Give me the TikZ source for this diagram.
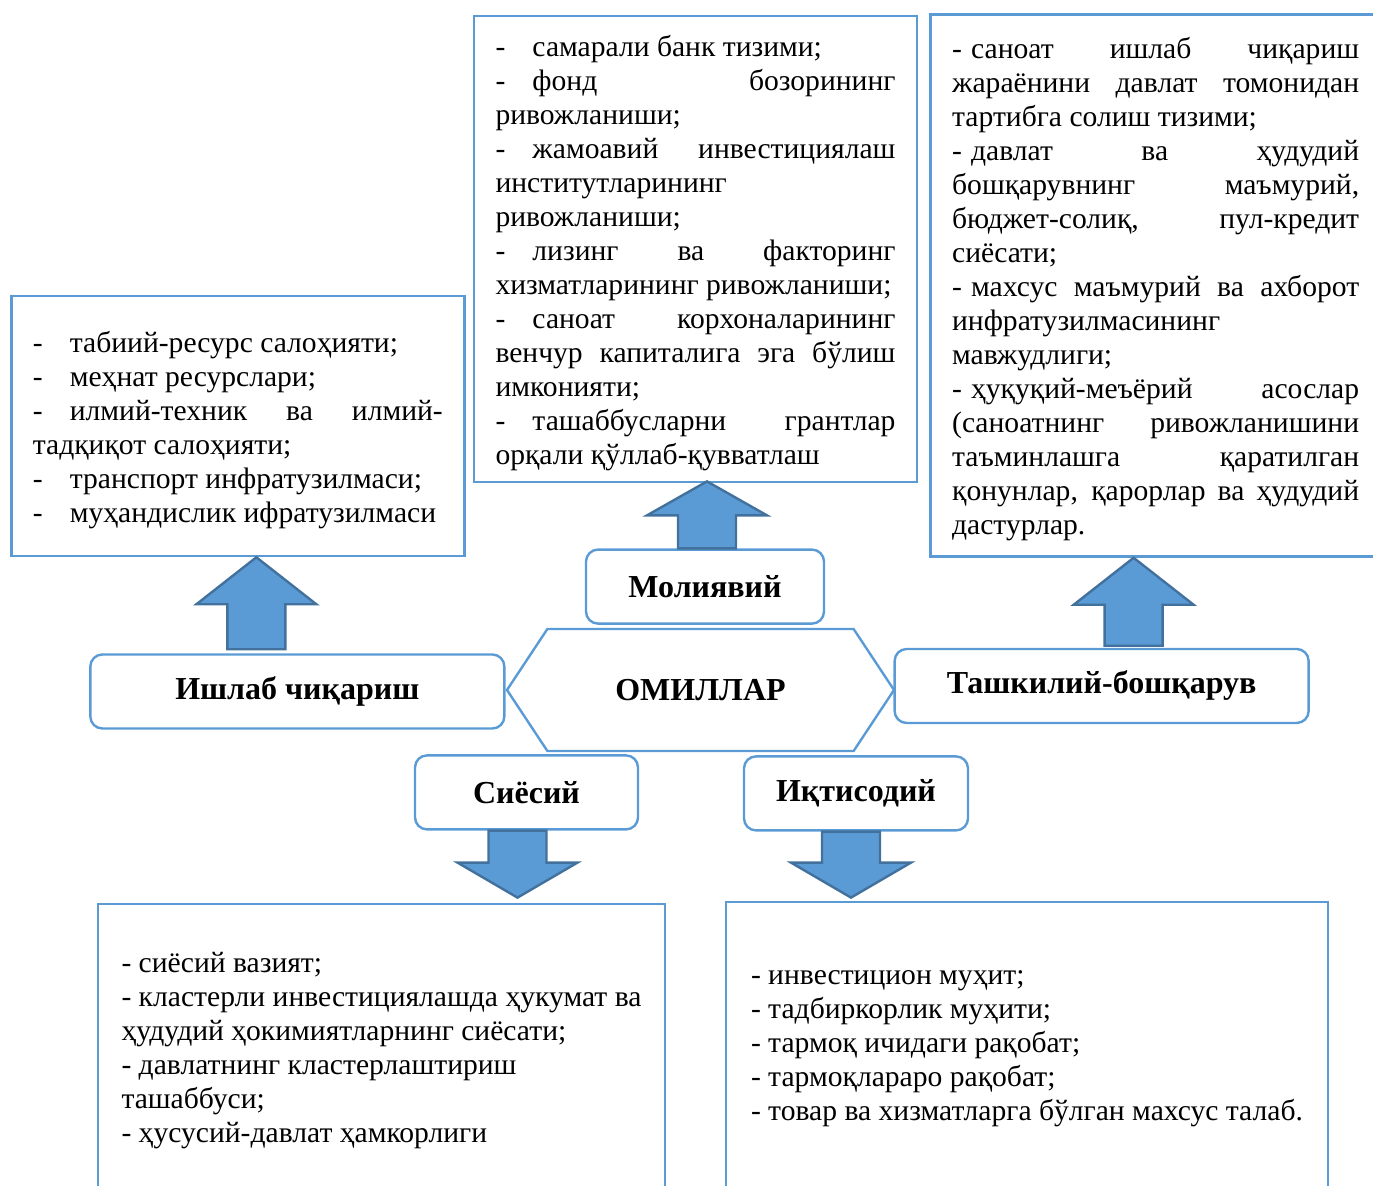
\documentclass[tikz,border=0pt]{standalone}
\usepackage{fontspec}
\setmainfont{Liberation Serif}
\usepackage{tikz}
\usetikzlibrary{calc,positioning,shapes.symbols}
\definecolor{boxblue}{RGB}{91,155,213}
\definecolor{arrowline}{RGB}{65,113,156}
\hbadness=10000
\newcommand{\bodyfont}{\fontsize{14.8}{17}\selectfont}
\newcommand{\labelfont}{\fontsize{16}{19}\selectfont\bfseries}
\newcommand{\dsh}{\makebox[18.5pt][l]{-}}
\newcommand{\dshs}{\makebox[9.5pt][l]{-}}
\newcommand{\liftend}{\par\vspace{-4pt}}
% block arrow: #1 shaft end, #2 tip, #3 offset of head base from the tip
\newcommand{\blockarr}[3]{%
  \draw[blockarrow] let \p1=#1, \p2=#2, \p3=($#2+(0pt,#3)$) in
    (\x1-14.5pt,\y1) -- (\x1-14.5pt,\y3) -- (\x1-30pt,\y3) -- (\x1,\y2)
    -- (\x1+30pt,\y3) -- (\x1+14.5pt,\y3) -- (\x1+14.5pt,\y1) -- cycle;}

\begin{document}
\begin{tikzpicture}[x=0.5pt, y=-0.5pt, font=\bodyfont]
    \tikzstyle{factor} = [rectangle, rounded corners=6pt, draw=boxblue, line width=1.2pt, fill=white, minimum height=37pt, text centered, font=\labelfont]
    \tikzstyle{txtbox} = [rectangle, draw=boxblue, line width=1.2pt, inner xsep=10.75pt, inner ysep=0pt]
    \tikzstyle{justbox} = [txtbox, align=justify, execute at end node=\liftend]
    \tikzstyle{blockarrow} = [draw=arrowline, line width=1.2pt, fill=boxblue, line join=miter]
    \useasboundingbox (0,0) rectangle (1373,1186);
    \clip (0,0) rectangle (1373,1186);

    % Centre
    \node [signal, signal to=west and east, signal pointer angle=113, draw=boxblue, line width=1.2pt,
           minimum width=193.5pt, minimum height=61pt, font=\labelfont] (omil) at (700.5,690) {ОМИЛЛАР};

    % Factor groups
    \node [factor, minimum width=207pt, left=0pt of omil, yshift=-0.75pt] (ishlab) {Ишлаб чиқариш};
    \node [factor, minimum width=207pt, right=-1pt of omil, yshift=2pt] (tashkil) {Ташкилий-бошқарув};
    \node [factor, minimum width=119pt, above=1.5pt of omil, xshift=2.25pt] (moliya) {Молиявий};
    \node [factor, minimum width=111.5pt, below=1pt of omil, xshift=-87pt] (siyosiy) {Сиёсий};
    \node [factor, minimum width=112pt, below=1.5pt of omil, xshift=77.75pt] (iqtisod) {Иқтисодий};

    % Lists
    \node [justbox, text width=205pt, minimum height=130pt, above=48pt of ishlab, xshift=-29.75pt] (ishlabtxt) {%
        \dsh табиий-ресурс салоҳияти;\par
        \dsh меҳнат ресурслари;\par
        \dsh илмий-техник ва илмий-\linebreak тадқиқот салоҳияти;\par
        \dsh транспорт инфратузилмаси;\par
        \dsh муҳандислик ифратузилмаси};
    \node [justbox, text width=200pt, minimum height=233pt, above=32.5pt of moliya, xshift=-4.75pt] (moliyatxt) {%
        \dsh самарали банк тизими;\par
        \dsh фонд бозорининг\linebreak ривожланиши;\par
        \dsh жамоавий инвестициялаш\linebreak институтларининг\linebreak ривожланиши;\par
        \dsh лизинг ва факторинг\linebreak хизматларининг ривожланиши;\par
        \dsh саноат корхоналарининг\linebreak венчур капиталига эга бўлиш\linebreak имконияти;\par
        \dsh ташаббусларни грантлар\linebreak орқали қўллаб-қувватлаш};
    % runs past the right edge of the page
    \node [justbox, text width=203.5pt, minimum height=271pt, above=45pt of tashkil, xshift=27pt] (tashkiltxt) {%
        \dshs саноат ишлаб чиқариш\linebreak жараёнини давлат томонидан\linebreak тартибга солиш тизими;\par
        \dshs давлат ва ҳудудий\linebreak бошқарувнинг маъмурий,\linebreak бюджет-солиқ, пул-кредит\linebreak сиёсати;\par
        \dshs махсус маъмурий ва ахборот\linebreak инфратузилмасининг\linebreak мавжудлиги;\par
        \dshs ҳуқуқий-меъёрий асослар\linebreak (саноатнинг ривожланишини\linebreak таъминлашга қаратилган\linebreak қонунлар, қарорлар ва ҳудудий\linebreak дастурлар.};
    \node [txtbox, minimum width=283.5pt, minimum height=147pt, align=left, below=36pt of siyosiy, xshift=-72.5pt] (siyosiytxt) {%
        - сиёсий вазият;\\
        - кластерли инвестициялашда ҳукумат ва\\
        ҳудудий ҳокимиятларнинг сиёсати;\\
        - давлатнинг кластерлаштириш\\
        ташаббуси;\\
        - ҳусусий-давлат ҳамкорлиги};
    \node [txtbox, minimum width=301pt, minimum height=146.5pt, align=left, below=34.5pt of iqtisod, xshift=85.5pt] (iqtisodtxt) {%
        - инвестицион муҳит;\\
        - тадбиркорлик муҳити;\\
        - тармоқ ичидаги рақобат;\\
        - тармоқлараро рақобат;\\
        - товар ва хизматларга бўлган махсус талаб.};

    % Arrows
    \blockarr{([xshift=-20.5pt,yshift=2pt]ishlab.north)}{(ishlabtxt.south)}{-23.5pt}
    \blockarr{([xshift=1pt]moliya.north)}{([yshift=1pt]moliyatxt.south)}{-17pt}
    \blockarr{([xshift=16pt,yshift=1pt]tashkil.north)}{(tashkiltxt.south)}{-23.5pt}
    \blockarr{([xshift=-4.5pt]siyosiy.south)}{([yshift=2.5pt]siyosiytxt.north)}{17.5pt}
    \blockarr{([xshift=-2.5pt]iqtisod.south)}{([yshift=1.5pt]iqtisodtxt.north)}{17.5pt}
\end{tikzpicture}
\end{document}
